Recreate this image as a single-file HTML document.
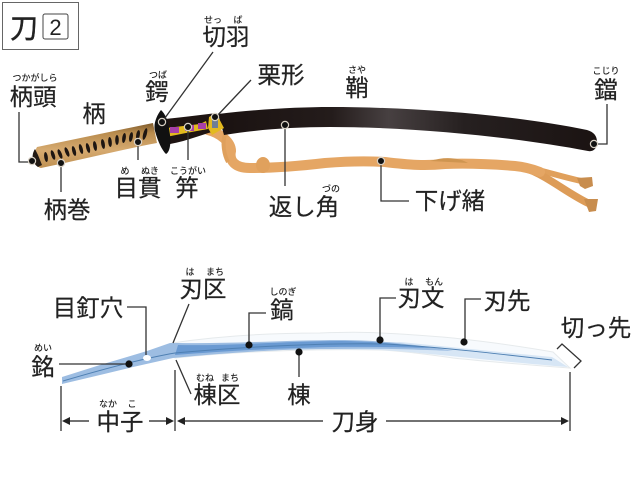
<!DOCTYPE html>
<html><head><meta charset="utf-8"><style>
html,body{margin:0;padding:0;background:#fff}
svg{display:block}
text{font-family:"Liberation Sans","Noto Sans CJK JP",sans-serif;fill:#222;text-anchor:middle}
.l text{stroke:#222;stroke-width:.2}
.r{font-size:9px;font-weight:500}
.ln{stroke:#333;stroke-width:1.3;fill:none}
.t{stroke:#444;stroke-width:1.6;fill:none}
</style></head><body>
<svg width="640" height="480" viewBox="0 0 640 480" xmlns="http://www.w3.org/2000/svg">
<defs>
<linearGradient id="sc" gradientUnits="userSpaceOnUse" x1="218" x2="597" y1="0" y2="0"><stop offset="0" stop-color="#1a1211"/><stop offset=".3" stop-color="#241c1b"/><stop offset=".45" stop-color="#474041"/><stop offset=".65" stop-color="#262020"/><stop offset="1" stop-color="#1b1312"/></linearGradient>
<linearGradient id="hd" x1="0" x2="0" y1="0" y2="1"><stop offset="0" stop-color="#7e5a2c"/><stop offset=".22" stop-color="#b98c4e"/><stop offset=".6" stop-color="#d6aa70"/><stop offset="1" stop-color="#bf9153"/></linearGradient>
</defs>
<rect x="2.5" y="2.5" width="76" height="47" fill="#fff" stroke="#666" stroke-width="1"/>
<text x="24" y="38" style="font-size:28px;stroke:#222;stroke-width:.4">刀</text>
<rect x="43" y="14" width="25" height="25" rx="2" fill="#fff" stroke="#444" stroke-width="1"/>
<text x="55.5" y="35" style="font-size:22px;font-family:'Liberation Sans',sans-serif">2</text>

<!-- cord -->
<path d="M530 168 C548 172 566 178 586 182" fill="none" stroke="#e0a05c" stroke-width="6" stroke-linecap="round"/>
<path d="M525 168 C548 176 568 194 590 204" fill="none" stroke="#dd9c58" stroke-width="7.5" stroke-linecap="round"/>
<path d="M208 130 C220 133 231 142 231 151 C229 160 234 168 250 168 C275 168 300 166 325 163 C350 161 370 161 385 162 C410 165 425 166 445 164 C470 163 490 164 515 166 C525 167 532 169 540 172" fill="none" stroke="#e5a664" stroke-width="10" stroke-linecap="round"/>
<path d="M225 135 C222 142 224 155 228 162" fill="none" stroke="#dfa05c" stroke-width="4"/>
<path d="M577 178 L592 177 L593 186 L585 189 L580 186Z M584 199 L598 199 L596 211 L589 212Z" fill="#c88d4e"/>
<ellipse cx="263" cy="165" rx="7" ry="8" fill="#e0a15d"/>
<path d="M430 161 C445 156 460 158 468 163Z" fill="#cf9550"/>

<!-- scabbard -->
<path d="M218 114 C260 109 300 107 330 107 C420 107 520 116 587 130 C594 132 597 136 597 142 C597 149 593 152 588 151 C520 138 420 127 330 127 C290 127 255 130 224 135Z" fill="url(#sc)"/>
<!-- koiguchi section -->
<path d="M165 119 C185 117 200 115 217 113 L220 130 C205 133 188 141 170 144Z" fill="#1e1412"/>
<path d="M158 129 L175 127 L200 124 L206 121 L208 129 L186 133 L166 137Z" fill="#e3b91f"/>
<path d="M170 127h9v6h-9z M185 125h9v6h-9z M198 123h8v6h-8z" fill="#a83fa8"/>
<path d="M209 117 L216 113 L224 128 L212 135 L208 128Z" fill="#e3b91f"/>
<rect x="212" y="119" width="6" height="9" fill="#6f7e95"/>
<!-- tsuba -->
<path d="M161 110 C166 115 168 120 170 135 C171 143 170 152 166 154 C162 150 158 142 155 131 C153 124 157 115 161 110Z" fill="#111"/>
<!-- handle -->
<path d="M37 147 L153 123 L157 143 C120 150 80 160 41 168 C36 167 33 160 33 155 Z" fill="url(#hd)"/>
<path d="M35 149 C31 155 32 163 38 167 L42 165 L38 155Z" fill="#221a14"/>
<g fill="#1e1612">
<ellipse cx="46" cy="157" rx="1.8" ry="5" transform="rotate(-8 46 157)"/>
<ellipse cx="53" cy="155" rx="1.8" ry="5" transform="rotate(-18 53 155)"/>
<ellipse cx="60" cy="154" rx="1.8" ry="5" transform="rotate(-22 60 154)"/>
<ellipse cx="67" cy="152" rx="1.8" ry="5" transform="rotate(-22 67 152)"/>
<ellipse cx="74" cy="151" rx="1.8" ry="5" transform="rotate(-15 74 151)"/>
<ellipse cx="81" cy="149" rx="1.8" ry="5" transform="rotate(-15 81 149)"/>
<ellipse cx="88" cy="148" rx="1.8" ry="5" transform="rotate(-15 88 148)"/>
<ellipse cx="95" cy="146" rx="1.8" ry="5" transform="rotate(-10 95 146)"/>
<ellipse cx="103" cy="144" rx="1.8" ry="5" transform="rotate(-10 103 144)"/>
<ellipse cx="110" cy="142" rx="1.8" ry="5" transform="rotate(-5 110 142)"/>
<ellipse cx="117" cy="140" rx="1.8" ry="5"/>
<ellipse cx="124" cy="138" rx="1.8" ry="5" transform="rotate(8 124 138)"/>
<ellipse cx="131" cy="137" rx="1.8" ry="5" transform="rotate(10 131 137)"/>
<ellipse cx="138" cy="135" rx="1.8" ry="5" transform="rotate(10 138 135)"/>
<ellipse cx="145" cy="134" rx="1.8" ry="6" transform="rotate(15 145 134)"/>
</g>

<!-- leader lines upper -->
<path class="ln" d="M213 52 L162 122 M251 80 L216 117 M19 112 V162 H32 M61 163 V192 M138 143 V160 M188 128 V160 M285 124 V186 M381 161 V201 H409 M607 104 V144 H594"/>
<g fill="#111" stroke="#d8d0c4" stroke-width="1.2">
<circle cx="162" cy="122" r="3.6"/><circle cx="215" cy="117" r="3.6"/><circle cx="32" cy="161" r="3.6"/><circle cx="61" cy="163" r="3.6"/><circle cx="138" cy="142" r="3.6"/><circle cx="188" cy="127" r="3.6"/><circle cx="285" cy="125" r="3.6"/><circle cx="381" cy="161" r="3.6"/><circle cx="594" cy="144" r="3.6"/>
</g>

<!-- blade -->
<path d="M172 343 C225 335 275 333 320 333 C345 332 365 332 380 333 C405 334 430 336 453 338 C490 342 525 347 553 352 L570 368 C530 365 490 362 453 358 C425 354 400 351 380 350 C330 349 250 350 175 358Z" fill="#f7fafd" stroke="#e6eaec" stroke-width="1"/>
<path d="M175 357 C230 351 300 348 380 350 C420 352 480 360 568 367 L552 357 C500 352 440 346 400 342 L175 345Z" fill="#d7e6f5"/>
<path d="M62 377 L100 365 L127 357 L147 351 L170 343 L178 343 C230 344 290 340 340 340 C370 340 410 343 453 351 C430 350 380 348 330 349 C280 349 225 353 173 358 L133 367 L100 375 L62 384Z" fill="#9dbde2"/>
<path d="M178 345 C230 346 290 341 340 341 C370 341 400 344 430 348 C390 347 340 346 300 348 C260 349 215 352 175 355Z" fill="#6a9ad2"/>
<path d="M63 381 C100 370 140 359 175 353 C250 346 330 343 385 344 C440 347 500 354 552 360" fill="none" stroke="#4f80b3" stroke-width="1"/>
<ellipse cx="147" cy="358" rx="4" ry="3" fill="#fff"/>

<!-- leader lines lower -->
<path class="ln" d="M189 304 L173 343 M127 307 H146 V355 M59 364 H129 M176 360 L191 394 M249 346 V313 H266 M299 353 V377 M380 340 V298 H396 M465 342 V299 H481"/>
<g fill="#111"><circle cx="129" cy="364" r="3.6"/><circle cx="249" cy="345" r="3.6"/><circle cx="299" cy="352" r="3.6"/><circle cx="380" cy="340" r="3.6"/><circle cx="464" cy="342" r="3.6"/></g>
<path class="ln" d="M557 349 L562 344 L581 361 L574 368" stroke-width="1.5"/>

<!-- dimension -->
<path class="ln" d="M61 386 V431 M175 370 V431 M570 372 V431"/>
<path class="t" d="M68 421 H89 M149 421 H168 M183 421 H323 M386 421 H563"/>
<path d="M62 421 L70 417 V425Z M174 421 L166 417 V425Z M177 421 L185 417 V425Z M569 421 L561 417 V425Z" fill="#222"/>

<!-- labels -->
<g class="l" style="font-size:23.5px">
<text x="226" y="45">切羽</text>
<text x="281" y="83">栗形</text>
<text x="157" y="100">鍔</text>
<text x="33" y="105">柄頭</text>
<text x="94" y="122">柄</text>
<text x="67" y="218">柄巻</text>
<text x="138" y="196">目貫</text>
<text x="187" y="196">笄</text>
<text x="304" y="215">返し角</text>
<text x="357" y="96">鞘</text>
<text x="606" y="98">鐺</text>
<text x="450" y="209">下げ緒</text>
<text x="203" y="297">刃区</text>
<text x="88" y="316">目釘穴</text>
<text x="282" y="318">鎬</text>
<text x="43" y="375">銘</text>
<text x="217" y="403">棟区</text>
<text x="299" y="403">棟</text>
<text x="120" y="430">中子</text>
<text x="421" y="306">刃文</text>
<text x="507" y="309">刃先</text>
<text x="596" y="336">切っ先</text>
<text x="355" y="430">刀身</text>
</g>
<g style="font-size:9px">
<text class="r" x="213" y="23">せっ</text><text class="r" x="238" y="23">ば</text>
<text class="r" x="158" y="78">つば</text>
<text class="r" x="35" y="81">つかがしら</text>
<text class="r" x="125" y="174">め</text><text class="r" x="150" y="174">ぬき</text>
<text class="r" x="188" y="174">こうがい</text>
<text class="r" x="357" y="73">さや</text>
<text class="r" x="606" y="74">こじり</text>
<text class="r" x="331" y="192">づの</text>
<text class="r" x="190" y="275">は</text><text class="r" x="215" y="275">まち</text>
<text class="r" x="283" y="295">しのぎ</text>
<text class="r" x="43" y="351">めい</text>
<text class="r" x="205" y="381">むね</text><text class="r" x="230" y="381">まち</text>
<text class="r" x="108" y="407">なか</text><text class="r" x="132" y="407">こ</text>
<text class="r" x="409" y="285">は</text><text class="r" x="434" y="285">もん</text>
</g>
</svg>
</body></html>
